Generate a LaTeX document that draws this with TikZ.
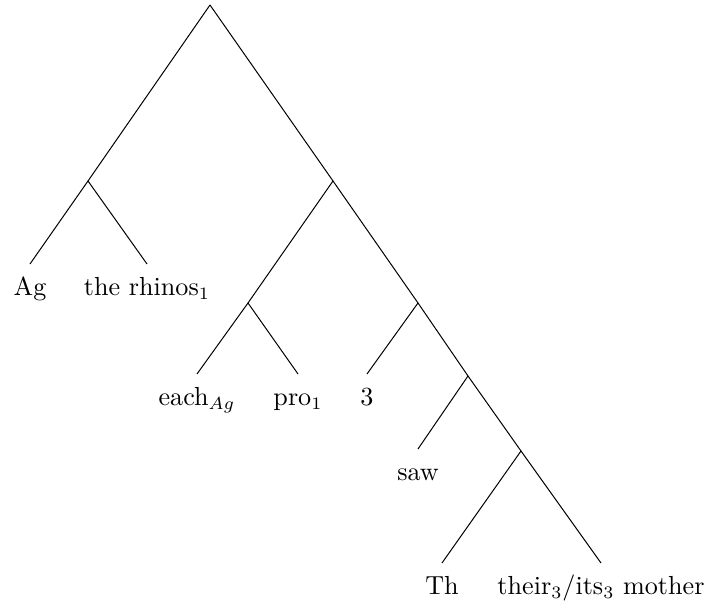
\documentclass[tikz,border=0pt]{standalone}
\begin{document}
\begin{tikzpicture}[x=0.4pt,y=-0.4pt,
  leaf/.style={anchor=north,inner sep=0pt,outer sep=0pt,text height=12.8pt,font=\fontsize{10.45}{12.5}\selectfont},
  edge/.style={line width=0.4pt}]
\useasboundingbox (0,0) rectangle (709,604);
% internal nodes
\coordinate (root) at (210,5);
\coordinate (L) at (88,181);
\coordinate (R) at (333,181);
\coordinate (RL) at (248,303);
\coordinate (RR) at (418,303);
\coordinate (RRR) at (468,376);
\coordinate (R4) at (521,451);
% leaves
\node[leaf] (ag) at (30,264) {Ag};
\node[leaf] (rhinos) at (147,264) {the rhinos$_1$};
\node[leaf] (each) at (197,374) {each$_{Ag}$};
\node[leaf] (pro) at (298,374) {pro$_1$};
\node[leaf] (three) at (367,374) {3};
\node[leaf] (saw) at (418,449) {saw};
\node[leaf] (th) at (442,563) {Th};
\node[leaf] (mother) at (601,563) {their$_3$/its$_3$ mother};
% edges
\draw[edge] (root) -- (L);
\draw[edge] (root) -- (R);
\draw[edge] (L) -- (ag.north);
\draw[edge] (L) -- (rhinos.north);
\draw[edge] (R) -- (RL);
\draw[edge] (R) -- (RR);
\draw[edge] (RL) -- (each.north);
\draw[edge] (RL) -- (pro.north);
\draw[edge] (RR) -- (three.north);
\draw[edge] (RR) -- (RRR);
\draw[edge] (RRR) -- (saw.north);
\draw[edge] (RRR) -- (R4);
\draw[edge] (R4) -- (th.north);
\draw[edge] (R4) -- (mother.north);
\end{tikzpicture}
\end{document}
